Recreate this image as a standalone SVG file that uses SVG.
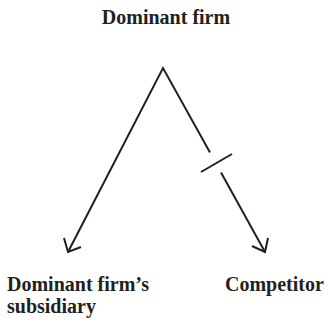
<svg xmlns="http://www.w3.org/2000/svg" width="328" height="323" viewBox="0 0 328 323">
<style>
text{font-family:"Liberation Serif","Times New Roman",serif;font-weight:bold;font-size:20px;fill:#231f20}
.l{stroke:#231f20;stroke-width:2;fill:none;stroke-linecap:butt}
</style>
<rect width="328" height="323" fill="#fff"/>
<g id="dominant"><text x="166" y="24" text-anchor="middle">Dominant firm</text></g>
<g id="subsidiary"><text x="7" y="291">Dominant firm’s</text><text x="7" y="313">subsidiary</text></g>
<g id="competitor"><text x="225" y="291">Competitor</text></g>
<g id="connectors">
<path class="l" d="M68,252 L163,68 L210,152.6"/>
<path class="l" d="M221,172.4 L265,252"/>
<path class="l" d="M201,172 L232,154"/>
<path class="l" d="M64,238 L68,252 L81,247"/>
<path class="l" d="M252,246 L265,252 L268,238"/>
</g>
</svg>
